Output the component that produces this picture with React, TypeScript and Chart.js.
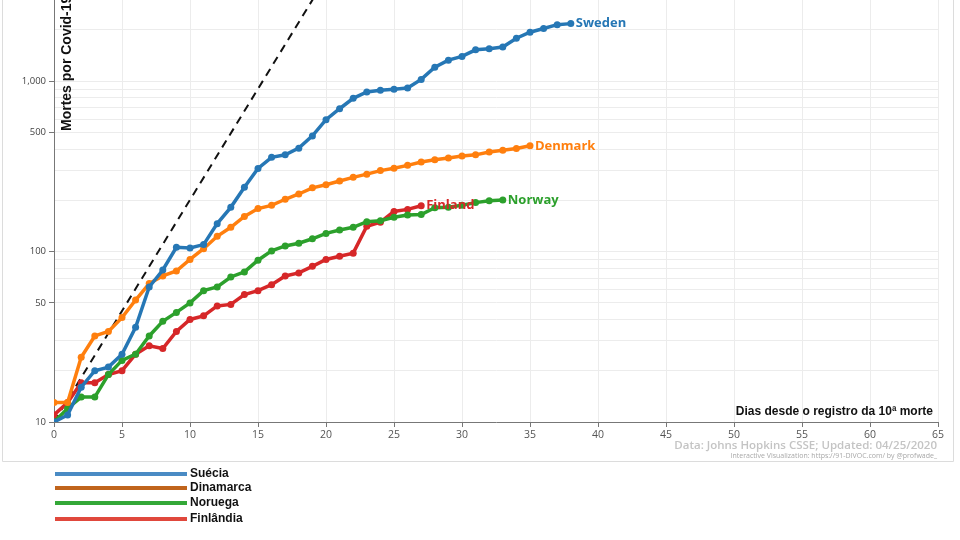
import { Chart } from "chart.js/auto";
import { useEffect, useRef } from "react";

// dias desde a 10ª morte
const sweden = [10, 11, 16, 20, 21, 25, 36, 62, 78, 106, 105, 110, 146, 182, 239, 308, 358, 370, 405, 478, 595, 690, 794, 866, 886, 899, 912, 1026, 1208, 1330, 1400, 1530, 1550, 1590, 1790, 1940, 2040, 2150, 2180];
const denmark = [13, 13, 24, 32, 34, 41, 52, 65, 72, 77, 90, 104, 123, 139, 161, 179, 187, 203, 218, 237, 247, 260, 273, 285, 299, 309, 321, 336, 346, 355, 364, 370, 384, 394, 403, 418];
const norway = [10, 12, 14, 14, 19, 23, 25, 32, 39, 44, 50, 59, 62, 71, 76, 89, 101, 108, 112, 119, 128, 134, 139, 150, 152, 159, 164, 165, 181, 182, 187, 194, 199, 201];
const finland = [11, 13, 17, 17, 19, 20, 25, 28, 27, 34, 40, 42, 48, 49, 56, 59, 64, 72, 75, 82, 90, 94, 98, 141, 149, 172, 177, 186];

// linha de referência (35% ao dia)
const guideDays = [0, 20];
const guideValues = [10, 4050];

const countryNames = ["Sweden", "Denmark", "Norway", "Finland"];
const countryColors = ["#2677b5", "#ff7f0e", "#2ca02c", "#d62728"];

const legendNames = ["Suécia", "Dinamarca", "Noruega", "Finlândia"];
const legendColors = ["#4a8bc4", "#c0641c", "#34a838", "#e0483c"];

const yTicks = [10, 20, 30, 40, 50, 60, 70, 80, 90, 100, 200, 300, 400, 500, 600, 700, 800, 900, 1000, 2000];
const yLabeled = [10, 50, 100, 500, 1000];

const toPoints = (values: number[]) => values.map((v, i) => ({ x: i, y: v }));

export default function App() {
    const canvasRef = useRef<HTMLCanvasElement | null>(null);
    const chartRef = useRef<Chart | null>(null);

    useEffect(() => {
        if (!canvasRef.current) return;

        const series = [sweden, denmark, norway, finland];

        const overlayPlugin = {
            id: "overlayPlugin",
            beforeDraw(chart: any) {
                const { ctx, width, height } = chart;
                ctx.save();
                ctx.fillStyle = "#ffffff";
                ctx.fillRect(0, 0, width, height);
                ctx.restore();
            },
            afterDraw(chart: any) {
                const { ctx } = chart;
                ctx.save();

                // moldura do gráfico original
                ctx.strokeStyle = "#dcdcdc";
                ctx.lineWidth = 1;
                ctx.beginPath();
                ctx.moveTo(2.5, 0);
                ctx.lineTo(2.5, 461.5);
                ctx.lineTo(953.5, 461.5);
                ctx.lineTo(953.5, 0);
                ctx.stroke();

                // rótulos no fim de cada linha
                ctx.font = "bold 13px 'Open Sans'";
                ctx.textAlign = "left";
                ctx.textBaseline = "middle";
                series.forEach((_, i) => {
                    const meta = chart.getDatasetMeta(i);
                    const last = meta.data[meta.data.length - 1];
                    ctx.fillStyle = countryColors[i];
                    ctx.fillText(countryNames[i], last.x + 5, last.y);
                });

                // título do eixo y
                ctx.save();
                ctx.translate(67, 131);
                ctx.rotate(-Math.PI / 2);
                ctx.font = "bold 14px 'Liberation Sans'";
                ctx.fillStyle = "#111";
                ctx.textAlign = "left";
                ctx.textBaseline = "middle";
                ctx.fillText("Mortes por Covid-19", 0, 0);
                ctx.restore();

                // título do eixo x
                ctx.font = "bold 12px 'Liberation Sans'";
                ctx.fillStyle = "#111";
                ctx.textAlign = "right";
                ctx.textBaseline = "middle";
                ctx.fillText("Dias desde o registro da 10ª morte", 933, 412);

                // fonte
                ctx.font = "600 11.5px 'Open Sans'";
                ctx.fillStyle = "#c4c4c4";
                ctx.fillText("Data: Johns Hopkins CSSE; Updated: 04/25/2020", 937, 446);
                ctx.font = "7px 'Open Sans'";
                ctx.fillStyle = "#a8a8a8";
                ctx.fillText("Interactive Visualization: https://91-DIVOC.com/ by @profwade_", 937, 456);

                // legenda
                const legendY = [474, 488, 503, 519];
                ctx.font = "bold 12px 'Liberation Sans'";
                ctx.textAlign = "left";
                legendNames.forEach((name, i) => {
                    ctx.strokeStyle = legendColors[i];
                    ctx.lineWidth = 4;
                    ctx.beginPath();
                    ctx.moveTo(55, legendY[i]);
                    ctx.lineTo(187, legendY[i]);
                    ctx.stroke();
                    ctx.fillStyle = "#111";
                    ctx.fillText(name, 190, legendY[i]);
                });

                ctx.restore();
            },
        };

        const datasets: any[] = series.map((values, i) => ({
            label: countryNames[i],
            data: toPoints(values),
            borderColor: countryColors[i],
            backgroundColor: countryColors[i],
            borderWidth: 3.5,
            pointRadius: 3.5,
            pointBorderWidth: 0,
            tension: 0,
        }));

        datasets.push({
            label: "guide",
            data: guideDays.map((d, i) => ({ x: d, y: guideValues[i] })),
            borderColor: "#111",
            borderWidth: 2,
            borderDash: [8, 6],
            pointRadius: 0,
        });

        if (chartRef.current) chartRef.current.destroy();

        chartRef.current = new Chart(canvasRef.current, {
            type: "line",
            data: { datasets },
            options: {
                responsive: false,
                animation: false,
                layout: { autoPadding: false, padding: { top: 0, right: 22, left: 0, bottom: 0 } },
                plugins: {
                    legend: { display: false },
                    tooltip: { enabled: false },
                },
                scales: {
                    x: {
                        type: "linear",
                        min: 0,
                        max: 65,
                        ticks: {
                            stepSize: 5,
                            color: "#555",
                            font: { family: "'Open Sans'", size: 10.5 },
                            padding: 2,
                        },
                        grid: { color: "#ececec", tickColor: "#777", tickLength: 5 },
                        border: { color: "#777" },
                        afterFit(scale: any) {
                            scale.height = 118;
                            scale.paddingLeft = 0;
                            scale.paddingRight = 0;
                        },
                    },
                    y: {
                        type: "logarithmic",
                        min: 10,
                        max: 3000,
                        afterBuildTicks(scale: any) {
                            scale.ticks = yTicks.map((v) => ({ value: v }));
                        },
                        ticks: {
                            autoSkip: false,
                            color: "#444",
                            font: { family: "'Open Sans'", size: 9.5 },
                            padding: 3,
                            callback: (value: any) =>
                                yLabeled.includes(Number(value)) ? Number(value).toLocaleString("en-US") : "",
                        },
                        grid: {
                            color: "#ececec",
                            tickLength: 5,
                            tickColor: (c: any) =>
                                c.tick && yLabeled.includes(c.tick.value) ? "#777" : "rgba(0,0,0,0)",
                        },
                        border: { color: "#777" },
                        afterFit(scale: any) {
                            scale.width = 54;
                            scale.paddingTop = 0;
                            scale.paddingBottom = 0;
                        },
                    },
                },
            } as any,
            plugins: [overlayPlugin],
        });

        return () => {
            if (chartRef.current) chartRef.current.destroy();
            chartRef.current = null;
        };
    }, []);

    return (
        <div style={{ position: "absolute", left: 0, top: 0, width: 960, height: 540 }}>
            <canvas ref={canvasRef} width={960} height={540} />
        </div>
    );
}
